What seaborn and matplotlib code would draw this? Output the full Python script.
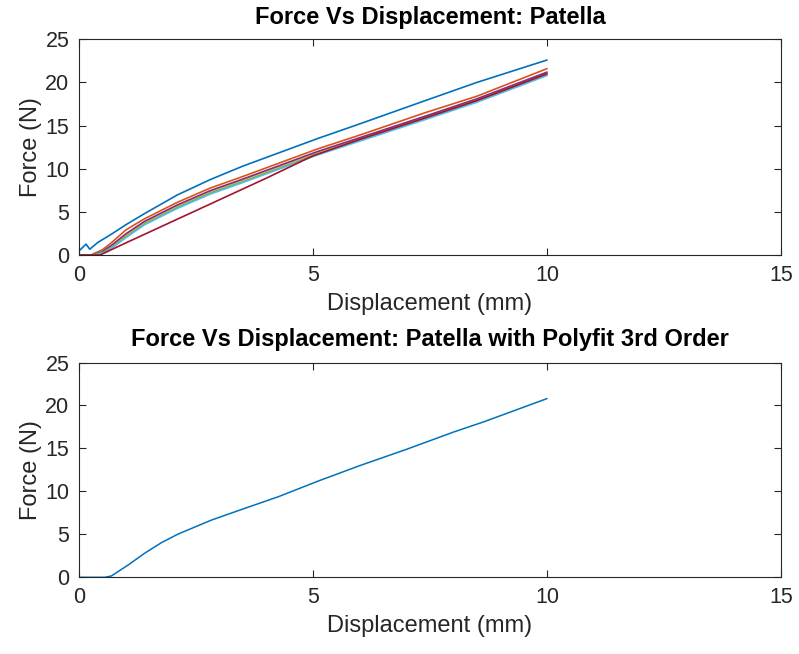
import matplotlib
matplotlib.use("Agg")
import matplotlib.pyplot as plt
import seaborn as sns
import pandas as pd

# ---------------- data ----------------
blue_x = [0, 0.15, 0.23, 0.4, 0.7, 1.0, 1.4, 2.1, 2.8, 3.5, 4.2, 5.1, 6.0, 7.4, 8.5, 10.0]
blue_y = [0.47, 1.26, 0.67, 1.45, 2.44, 3.5, 4.8, 6.96, 8.73, 10.3, 11.7, 13.5, 15.2, 17.9, 20.0, 22.6]

orange_x = [0, 0.25, 0.5, 0.7, 1.0, 1.4, 2.1, 2.8, 3.5, 4.2, 5.1, 6.0, 7.4, 8.5, 10.0]
orange_y = [0, 0, 0.6, 1.46, 2.9, 4.2, 6.1, 7.75, 9.1, 10.5, 12.3, 13.9, 16.5, 18.4, 21.6]

yellow_x = [0, 0.3, 0.5, 0.7, 1.0, 1.4, 2.1, 2.8, 3.5, 4.2, 5.1, 6.0, 7.4, 8.5, 10.0]
yellow_y = [0, 0, 0.35, 1.05, 2.3, 3.8, 5.7, 7.35, 8.7, 10.1, 11.9, 13.5, 16.0, 18.0, 21.1]

purple_x = [0, 0.3, 0.5, 0.7, 1.0, 1.4, 2.1, 2.8, 3.5, 4.2, 5.1, 6.0, 7.4, 8.5, 10.0]
purple_y = [0, 0, 0.4, 1.15, 2.45, 3.9, 5.8, 7.45, 8.8, 10.2, 12.0, 13.6, 16.1, 18.1, 21.2]

green_x = [0, 0.3, 0.5, 0.7, 1.0, 1.4, 2.1, 2.8, 3.5, 4.2, 5.1, 6.0, 7.4, 8.5, 10.0]
green_y = [0, 0, 0.3, 0.87, 2.1, 3.6, 5.5, 7.16, 8.5, 9.9, 11.7, 13.3, 15.8, 17.8, 20.9]

cyan_x = [0, 0.35, 0.55, 0.75, 1.0, 1.4, 2.1, 2.8, 3.5, 4.2, 5.1, 6.0, 7.4, 8.5, 10.0]
cyan_y = [0, 0, 0.3, 1.0, 2.0, 3.5, 5.4, 7.05, 8.4, 9.8, 11.6, 13.2, 15.7, 17.7, 20.8]

maroon_x = [0, 0.45, 1.0, 2.0, 3.0, 4.0, 5.0, 6.0, 7.4, 8.5, 10.0]
maroon_y = [0, 0, 1.4, 3.9, 6.4, 8.9, 11.5, 13.4, 15.9, 17.9, 21.0]

fit_x = [0, 0.55, 0.69, 1.05, 1.4, 1.76, 2.12, 2.83, 3.54, 4.26, 5.11, 6.0, 7.0, 8.0, 8.65, 10.0]
fit_y = [0, 0, 0.15, 1.43, 2.79, 4.03, 5.04, 6.66, 8.02, 9.38, 11.2, 13.0, 14.9, 16.9, 18.1, 20.8]

x_ticks = [0, 5, 10, 15]
y_ticks = [0, 5, 10, 15, 20, 25]
title_top = "Force Vs Displacement: Patella"
title_bottom = "Force Vs Displacement: Patella with Polyfit 3rd Order"
x_label = "Displacement (mm)"
y_label = "Force (N)"

series = {
    "s1": (blue_x, blue_y),
    "s2": (orange_x, orange_y),
    "s3": (yellow_x, yellow_y),
    "s4": (purple_x, purple_y),
    "s5": (green_x, green_y),
    "s6": (cyan_x, cyan_y),
    "s7": (maroon_x, maroon_y),
}
palette = {"s1": "#0072BD", "s2": "#D95319", "s3": "#EDB120", "s4": "#7E2F8E",
           "s5": "#77AC30", "s6": "#4DBEEE", "s7": "#A2142F"}

rows = []
for name, (xs, ys) in series.items():
    for a, b in zip(xs, ys):
        rows.append({"series": name, "x": a, "y": b})
df_top = pd.DataFrame(rows)
df_fit = pd.DataFrame({"x": fit_x, "y": fit_y})

# ---------------- style ----------------
sns.set_theme(style="white")
plt.rcParams["font.family"] = ["Liberation Sans", "DejaVu Sans"]

fig = plt.figure(figsize=(7.99, 6.54), dpi=100)
ax1 = fig.add_axes([0.0989, 0.6101, 0.8786, 0.3298])
ax2 = fig.add_axes([0.0989, 0.1173, 0.8786, 0.3284])

order = ["s1", "s2", "s3", "s4", "s5", "s6", "s7"]
sns.lineplot(data=df_top, x="x", y="y", hue="series", hue_order=order, palette=palette,
             estimator=None, sort=False, linewidth=1.2, legend=False, ax=ax1)
sns.lineplot(data=df_fit, x="x", y="y", color="#0072BD", estimator=None, sort=False,
             linewidth=1.1, legend=False, ax=ax2)

for ax, title, tpad in [(ax1, title_top, 11), (ax2, title_bottom, 12)]:
    ax.set_xlim(0, 15)
    ax.set_ylim(0, 25)
    ax.set_xticks(x_ticks)
    ax.set_yticks(y_ticks)
    ax.tick_params(direction="in", length=5, width=0.8, color="#262626",
                   labelsize=15.5, labelcolor="#262626", top=True, right=True,
                   bottom=True, left=True, pad=7)
    for sp in ax.spines.values():
        sp.set_visible(True)
        sp.set_color("#262626")
        sp.set_linewidth(0.8)
    ax.set_xlabel(x_label, fontsize=17, color="#262626", labelpad=5)
    ax.set_ylabel(y_label, fontsize=17, color="#262626", labelpad=2)
    ax.set_title(title, fontsize=17, fontweight="bold", color="black", pad=tpad)
    ax.grid(False)

fig.savefig("out.png", dpi=100, facecolor="white")
